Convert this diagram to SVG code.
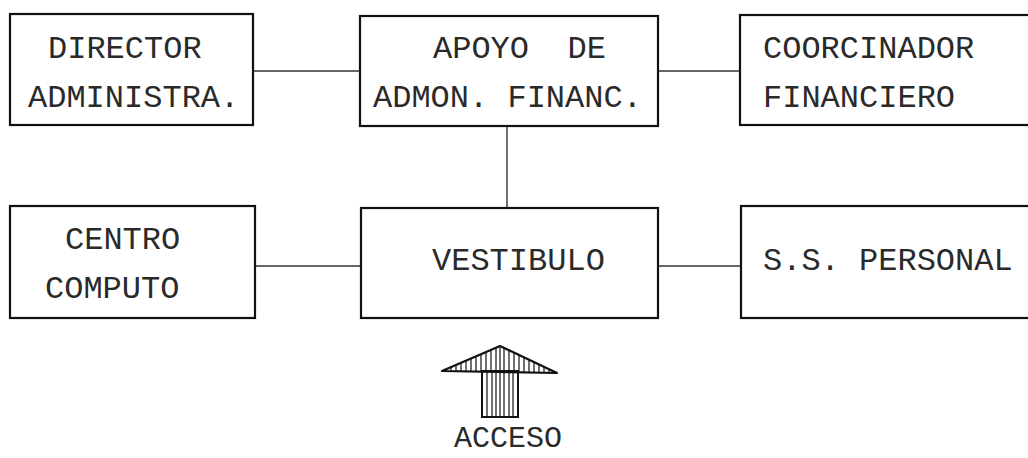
<svg xmlns="http://www.w3.org/2000/svg" width="1028" height="458" viewBox="0 0 1028 458">
<style>
.box{fill:#fff;stroke:#111;stroke-width:2.2}
.t{font-family:"Liberation Mono","Courier New",monospace;font-size:32px;fill:#2a2a2a}
.c{stroke:#333;stroke-width:1.4;fill:none}
.h{stroke:#111;stroke-width:1.2}
</style>
<defs>
<clipPath id="tri"><polygon points="500,346 442,371 557,373"/></clipPath>
<clipPath id="stem"><rect x="482" y="371" width="36" height="46"/></clipPath>
</defs>
<rect width="1028" height="458" fill="#fff"/>
<g id="connectors">
<line class="c" x1="253" y1="71" x2="360" y2="71"/>
<line class="c" x1="658" y1="71" x2="740" y2="71"/>
<line class="c" x1="507" y1="126" x2="507" y2="208"/>
<line class="c" x1="255" y1="266" x2="361" y2="266"/>
<line class="c" x1="658" y1="266" x2="741" y2="266"/>
</g>
<g id="director">
<rect class="box" x="10" y="14" width="243" height="111"/>
<text class="t" x="48" y="58">DIRECTOR</text>
<text class="t" x="28" y="107">ADMINISTRA.</text>
</g>
<g id="apoyo">
<rect class="box" x="360" y="16" width="298" height="110"/>
<text class="t" x="433" y="58" xml:space="preserve">APOYO  DE</text>
<text class="t" x="373" y="107">ADMON. FINANC.</text>
</g>
<g id="coordinador">
<rect class="box" x="740" y="15" width="300" height="110"/>
<text class="t" x="763" y="58">COORCINADOR</text>
<text class="t" x="763" y="107">FINANCIERO</text>
</g>
<g id="centro">
<rect class="box" x="10" y="206" width="245" height="112"/>
<text class="t" x="65" y="249">CENTRO</text>
<text class="t" x="45" y="298">COMPUTO</text>
</g>
<g id="vestibulo">
<rect class="box" x="361" y="208" width="297" height="110"/>
<text class="t" x="432" y="270">VESTIBULO</text>
</g>
<g id="personal">
<rect class="box" x="741" y="206" width="300" height="112"/>
<text class="t" x="763" y="270">S.S. PERSONAL</text>
</g>
<g id="acceso">
<g clip-path="url(#tri)">
<path class="h" d="M446 340V380M451 340V380M456 340V380M461 340V380M466 340V380M471 340V380M476 340V380M481 340V380M486 340V380M491 340V380M496 340V380M500 340V380M504 340V380M509 340V380M514 340V380M519 340V380M524 340V380M529 340V380M534 340V380M539 340V380M544 340V380M549 340V380M554 340V380"/>
</g>
<polygon points="500,346 442,371 557,373" fill="none" stroke="#111" stroke-width="2.2" stroke-linejoin="round"/>
<g clip-path="url(#stem)">
<path class="h" d="M487 370V420M492 370V420M496 370V420M500 370V420M504 370V420M509 370V420M513 370V420"/>
</g>
<rect x="482" y="371" width="36" height="46" fill="none" stroke="#111" stroke-width="2"/>
<text class="t" x="454" y="447" style="font-size:30px">ACCESO</text>
</g>
</svg>
